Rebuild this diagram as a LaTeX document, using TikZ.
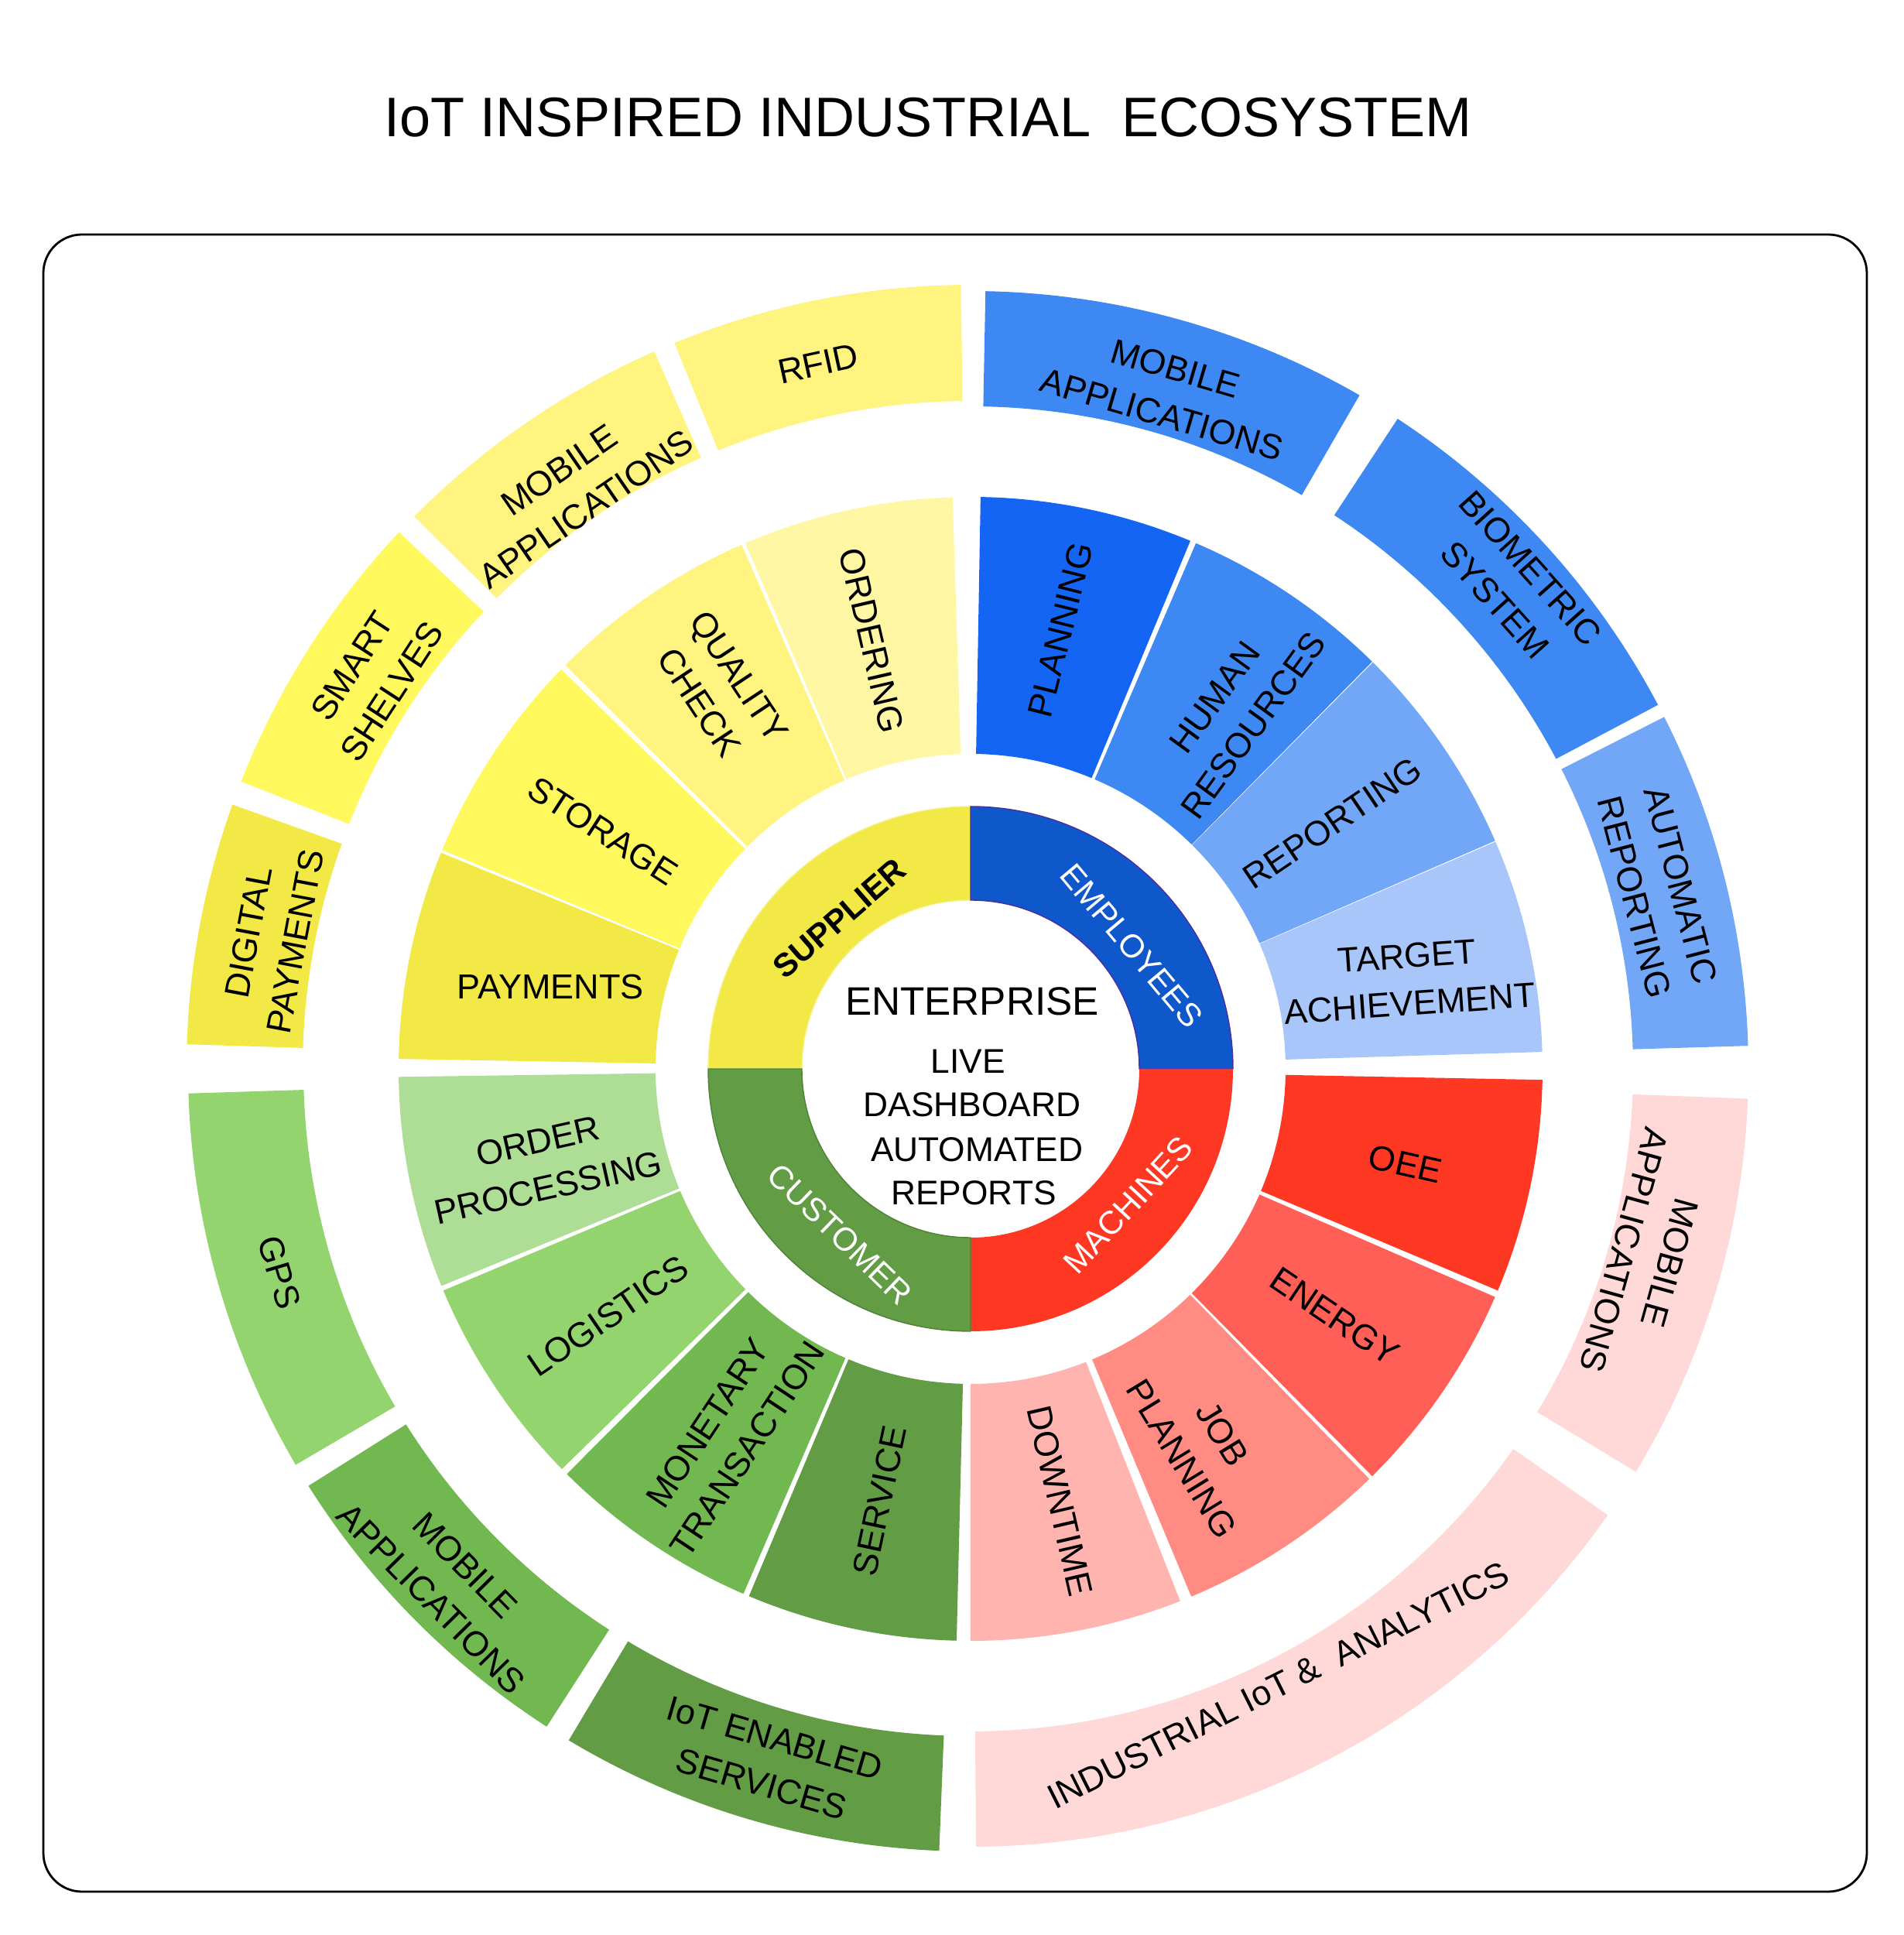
\documentclass[tikz,border=0pt]{standalone}
\usepackage{fontspec}
\setmainfont{Liberation Sans}
\usepackage{xcolor}
\usepackage{tikz}

\definecolor{yelA}{HTML}{F2E846}
\definecolor{yelB}{HTML}{FFF95E}
\definecolor{yelC}{HTML}{FFF47F}
\definecolor{yelD}{HTML}{FFF7A3}
\definecolor{yelE}{HTML}{F8F08A}
\definecolor{bluA}{HTML}{0F58CC}
\definecolor{bluB}{HTML}{1565F5}
\definecolor{bluC}{HTML}{3E88F3}
\definecolor{bluD}{HTML}{72A7F8}
\definecolor{bluE}{HTML}{A8C6FA}
\definecolor{bluF}{HTML}{4A2EA0}
\definecolor{redA}{HTML}{FF3824}
\definecolor{redB}{HTML}{FF5F57}
\definecolor{redC}{HTML}{FF8B83}
\definecolor{redD}{HTML}{FFB4AF}
\definecolor{redE}{HTML}{FFD9D8}
\definecolor{grnA}{HTML}{629C44}
\definecolor{grnB}{HTML}{72B850}
\definecolor{grnC}{HTML}{93D46F}
\definecolor{grnD}{HTML}{AEDE95}
\definecolor{grnE}{HTML}{4F8236}

% ring piece: [options]{inner r}{outer r}{from angle}{to angle}
\newcommand{\ringseg}[5][]{%
  \path[#1] (#4:#2) arc[start angle=#4, end angle=#5, radius=#2]
    -- (#5:#3) arc[start angle=#5, end angle=#4, radius=#3] -- cycle;}

\begin{document}
\begin{tikzpicture}[
    lbl/.style={font=\fontsize{12.8}{17.5}\selectfont, align=center, inner sep=0pt},
    hub/.style={font=\fontsize{12.6}{16}\selectfont, anchor=base, inner sep=0pt},
    core/.style={font=\fontsize{12}{15}\selectfont, inner sep=0pt, text=white}]
  \useasboundingbox (-12.54,-11.19) rectangle (12.06,13.81);

  \node[font=\fontsize{20.5}{24}\selectfont, anchor=base, inner sep=0pt] (title)
    at (-0.55,12.04) {IoT INSPIRED INDUSTRIAL\ \ ECOSYSTEM};
  \draw[line width=0.8pt, rounded corners=0.5cm] (-11.98,-10.63) rectangle (11.58,10.78);

  % inner ring
  \ringseg[fill=yelA, draw=yelE, line width=0.4pt]{2.18}{3.39}{90}{180}
  \ringseg[fill=bluA, draw=bluF, line width=0.4pt]{2.18}{3.39}{0}{90}
  \ringseg[fill=redA]{2.18}{3.39}{-90}{0}
  \ringseg[fill=grnA, draw=grnE, line width=0.4pt]{2.18}{3.39}{180}{270}

  % middle ring
  \ringseg[fill=yelD]{4.07}{7.39}{91.8}{113.2}
  \ringseg[fill=yelC]{4.07}{7.39}{113.6}{135.1}
  \ringseg[fill=yelB]{4.07}{7.39}{135.7}{157.5}
  \ringseg[fill=yelA]{4.07}{7.39}{157.8}{179.0}
  \ringseg[fill=bluB]{4.07}{7.39}{67.4}{89.0}
  \ringseg[fill=bluC]{4.07}{7.39}{45.4}{66.8}
  \ringseg[fill=bluD]{4.07}{7.39}{23.5}{45.3}
  \ringseg[fill=bluE]{4.07}{7.39}{1.7}{23.4}
  \ringseg[fill=redA]{4.07}{7.39}{-22.8}{-1.1}
  \ringseg[fill=redB]{4.07}{7.39}{-45.4}{-23.5}
  \ringseg[fill=redC]{4.07}{7.39}{-67.3}{-45.8}
  \ringseg[fill=redD]{4.07}{7.39}{-90}{-68.5}
  \ringseg[fill=grnD]{4.07}{7.39}{180.8}{202.3}
  \ringseg[fill=grnC]{4.07}{7.39}{202.8}{224.4}
  \ringseg[fill=grnB]{4.07}{7.39}{225.1}{246.6}
  \ringseg[fill=grnA]{4.07}{7.39}{247.2}{268.6}

  % outer ring
  \ringseg[fill=yelC]{8.63}{10.13}{90.7}{112.2}
  \ringseg[fill=yelC]{8.63}{10.13}{113.8}{135.2}
  \ringseg[fill=yelB]{8.63}{10.13}{136.8}{158.5}
  \ringseg[fill=yelA]{8.63}{10.13}{160.3}{178.2}
  \ringseg[fill=bluC]{8.56}{10.05}{60.0}{88.9}
  \ringseg[fill=bluC]{8.56}{10.05}{27.9}{56.7}
  \ringseg[fill=bluD]{8.56}{10.05}{1.7}{26.9}
  \ringseg[fill=redE]{8.56}{10.05}{-31.2}{-2.2}
  \ringseg[fill=redE]{8.56}{10.05}{-89.6}{-35.0}
  \ringseg[fill=grnC]{8.62}{10.11}{181.8}{210.4}
  \ringseg[fill=grnB]{8.62}{10.11}{212.2}{237.2}
  \ringseg[fill=grnA]{8.62}{10.11}{239.1}{267.7}

  % centre
  \node[font=\fontsize{14.6}{18}\selectfont, anchor=base, inner sep=0pt] (ent) at (0.02,0.69) {ENTERPRISE};
  \node[hub] (live) at (-0.03,-0.06) {LIVE};
  \node[hub] (dash) at (0.02,-0.62) {DASHBOARD};
  \node[hub] (auto) at (0.08,-1.20) {AUTOMATED};
  \node[hub] (reps) at (0.04,-1.76) {REPORTS};

  \node[core, text=black, font=\fontsize{12}{15}\bfseries, rotate=41] (supplier) at (131:2.58) {SUPPLIER};
  \node[core, rotate=-50] (employees) at (37.4:2.62) {EMPLOYEES};
  \node[core, rotate=47] (machines) at (-40.8:2.69) {MACHINES};
  \node[core, rotate=-44] (customer) at (231.7:2.72) {CUSTOMER};

  % middle labels
  \node[lbl, rotate=-77] (ordering) at (103:5.68) {ORDERING};
  \node[lbl, rotate=-56.5] (quality) at (123.5:5.88) {QUALITY\\CHECK};
  \node[lbl, rotate=-32.9] (storage) at (147.1:5.66) {STORAGE};
  \node[lbl] (payments) at (169:5.53) {PAYMENTS};
  \node[lbl, rotate=76] (planning) at (78.4:5.79) {PLANNING};
  \node[lbl, rotate=54] (hr) at (53.6:5.74) {HUMAN\\RESOURCES};
  \node[lbl, rotate=34] (reporting) at (34.2:5.65) {REPORTING};
  \node[lbl, rotate=4] (target) at (11.5:5.77) {TARGET\\ACHIEVEMENT};
  \node[lbl, rotate=-13] (oee) at (-12.35:5.75) {OEE};
  \node[lbl, rotate=-34] (energy) at (-34.2:5.69) {ENERGY};
  \node[lbl, rotate=-58.5] (jobplan) at (-58.5:5.72) {JOB\\PLANNING};
  \node[lbl, rotate=-77] (downtime) at (-78.3:5.70) {DOWNTIME};
  \node[lbl, rotate=12.6] (orderproc) at (192.6:5.66) {ORDER\\PROCESSING};
  \node[lbl, rotate=34.3] (logistics) at (214.3:5.67) {LOGISTICS};
  \node[lbl, rotate=56.5] (monetary) at (236.5:5.69) {MONETARY\\TRANSACTION};
  \node[lbl, rotate=78] (service) at (258.1:5.70) {SERVICE};

  % outer labels
  \node[lbl, rotate=12.2] (rfid) at (102.2:9.32) {RFID};
  \node[lbl, rotate=34.5] (mobsup) at (124.5:9.08) {MOBILE\\APPLICATIONS};
  \node[lbl, rotate=56.9] (shelves) at (146.9:9.23) {SMART\\SHELVES};
  \node[lbl, rotate=79.3] (digital) at (169.3:9.19) {DIGITAL\\PAYMENTS};
  \node[lbl, rotate=-16.3] (mobemp) at (73.7:9.12) {MOBILE\\APPLICATIONS};
  \node[lbl, rotate=-48.2] (biometric) at (41.8:9.40) {BIOMETRIC\\SYSTEM};
  \node[lbl, rotate=-75.5] (autorep) at (14.5:9.17) {AUTOMATIC\\REPORTING};
  \node[lbl, rotate=-105.5] (mobmac) at (-15.5:9.07) {MOBILE\\APPLICATIONS};
  \node[lbl, rotate=26.5] (iiot) at (-63.5:8.90) {INDUSTRIAL IoT \&\ \ ANALYTICS};
  \node[lbl, rotate=-73.6] (gps) at (196.4:9.31) {GPS};
  \node[lbl, rotate=-45.5] (mobcus) at (224.5:9.46) {MOBILE\\APPLICATIONS};
  \node[lbl, rotate=-16.3] (iotserv) at (253.7:9.32) {IoT ENABLED\\SERVICES};
\end{tikzpicture}
\end{document}
